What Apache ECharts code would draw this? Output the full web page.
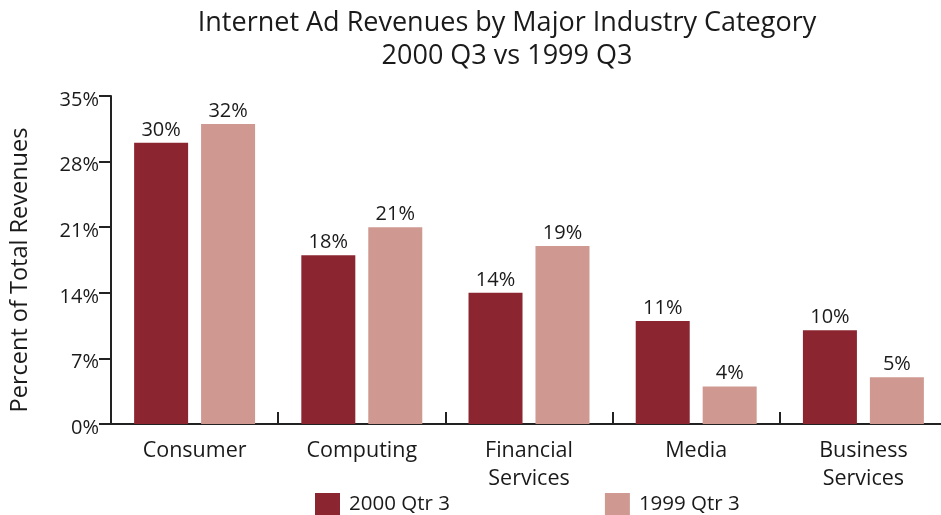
<!DOCTYPE html>
<html>
<head>
<meta charset="utf-8">
<script src="https://cdn.jsdelivr.net/npm/echarts@6/dist/echarts.min.js"></script>
<style>html,body{margin:0;padding:0;background:#fff;overflow:hidden;}#c{width:960px;height:515px;}</style>
</head>
<body>
<div id="c"></div>
<script>
var categories = ['Consumer', 'Computing', 'Financial\nServices', 'Media', 'Business\nServices'];
var seriesNames = ['2000 Qtr 3', '1999 Qtr 3'];
var values2000 = [30, 18, 14, 11, 10];
var values1999 = [32, 21, 19, 4, 5];
var yTicks = [0, 7, 14, 21, 28, 35];

var FONT = '"Open Sans", Lato, sans-serif';
var chart = echarts.init(document.getElementById('c'), null, {renderer: 'canvas'});
chart.setOption({
  animation: false,
  backgroundColor: '#fff',
  title: {
    text: 'Internet Ad Revenues by Major Industry Category\n2000 Q3 vs 1999 Q3',
    left: 507,
    textAlign: 'center',
    top: 7,
    padding: 0,
    textStyle: {fontFamily: FONT, fontSize: 27, fontWeight: 'normal', color: '#1a1a1a', lineHeight: 33}
  },
  legend: {
    data: seriesNames,
    left: 315,
    top: 493,
    padding: 0,
    itemWidth: 25,
    itemHeight: 22,
    itemGap: 155,
    icon: 'rect',
    textStyle: {fontFamily: FONT, fontSize: 20.5, color: '#1a1a1a', padding: [0, 0, 0, 4]}
  },
  grid: {left: 111, top: 96, width: 836, height: 328, containLabel: false},
  xAxis: {
    type: 'category',
    data: categories,
    axisLine: {show: true, lineStyle: {color: '#222', width: 2}},
    axisTick: {show: true, inside: true, length: 12, lineStyle: {color: '#222', width: 2}},
    axisLabel: {fontFamily: FONT, fontSize: 21.5, color: '#1a1a1a', margin: 13, lineHeight: 28, interval: 0}
  },
  yAxis: {
    type: 'value',
    min: 0,
    max: 35,
    interval: 7,
    name: 'Percent of Total Revenues',
    nameLocation: 'middle',
    nameGap: 79,
    nameTextStyle: {fontFamily: FONT, fontSize: 23.5, color: '#1a1a1a', padding: [0, 20, 0, 0]},
    axisLine: {show: true, lineStyle: {color: '#222', width: 2}},
    axisTick: {show: true, inside: false, length: 12, lineStyle: {color: '#222', width: 2}},
    axisLabel: {
      fontFamily: FONT, fontSize: 20, color: '#1a1a1a', margin: 12,
      formatter: function (v) { return yTicks.indexOf(v) >= 0 ? '{a|' + v + '%}' : ''; },
      rich: {a: {fontFamily: FONT, fontSize: 20, color: '#1a1a1a', padding: [8, 0, 0, 0]}}
    },
    splitLine: {show: false}
  },
  series: [
    {
      name: seriesNames[0],
      type: 'bar',
      data: values2000,
      barWidth: 54,
      barGap: '24%',
      itemStyle: {color: '#8B2631'},
      label: {show: true, position: 'top', distance: 3, formatter: '{c}%', fontFamily: FONT, fontSize: 20, color: '#1a1a1a'}
    },
    {
      name: seriesNames[1],
      type: 'bar',
      data: values1999,
      barWidth: 54,
      barGap: '24%',
      itemStyle: {color: '#CF9891'},
      label: {show: true, position: 'top', distance: 3, formatter: '{c}%', fontFamily: FONT, fontSize: 20, color: '#1a1a1a'}
    }
  ]
});
</script>
</body>
</html>
